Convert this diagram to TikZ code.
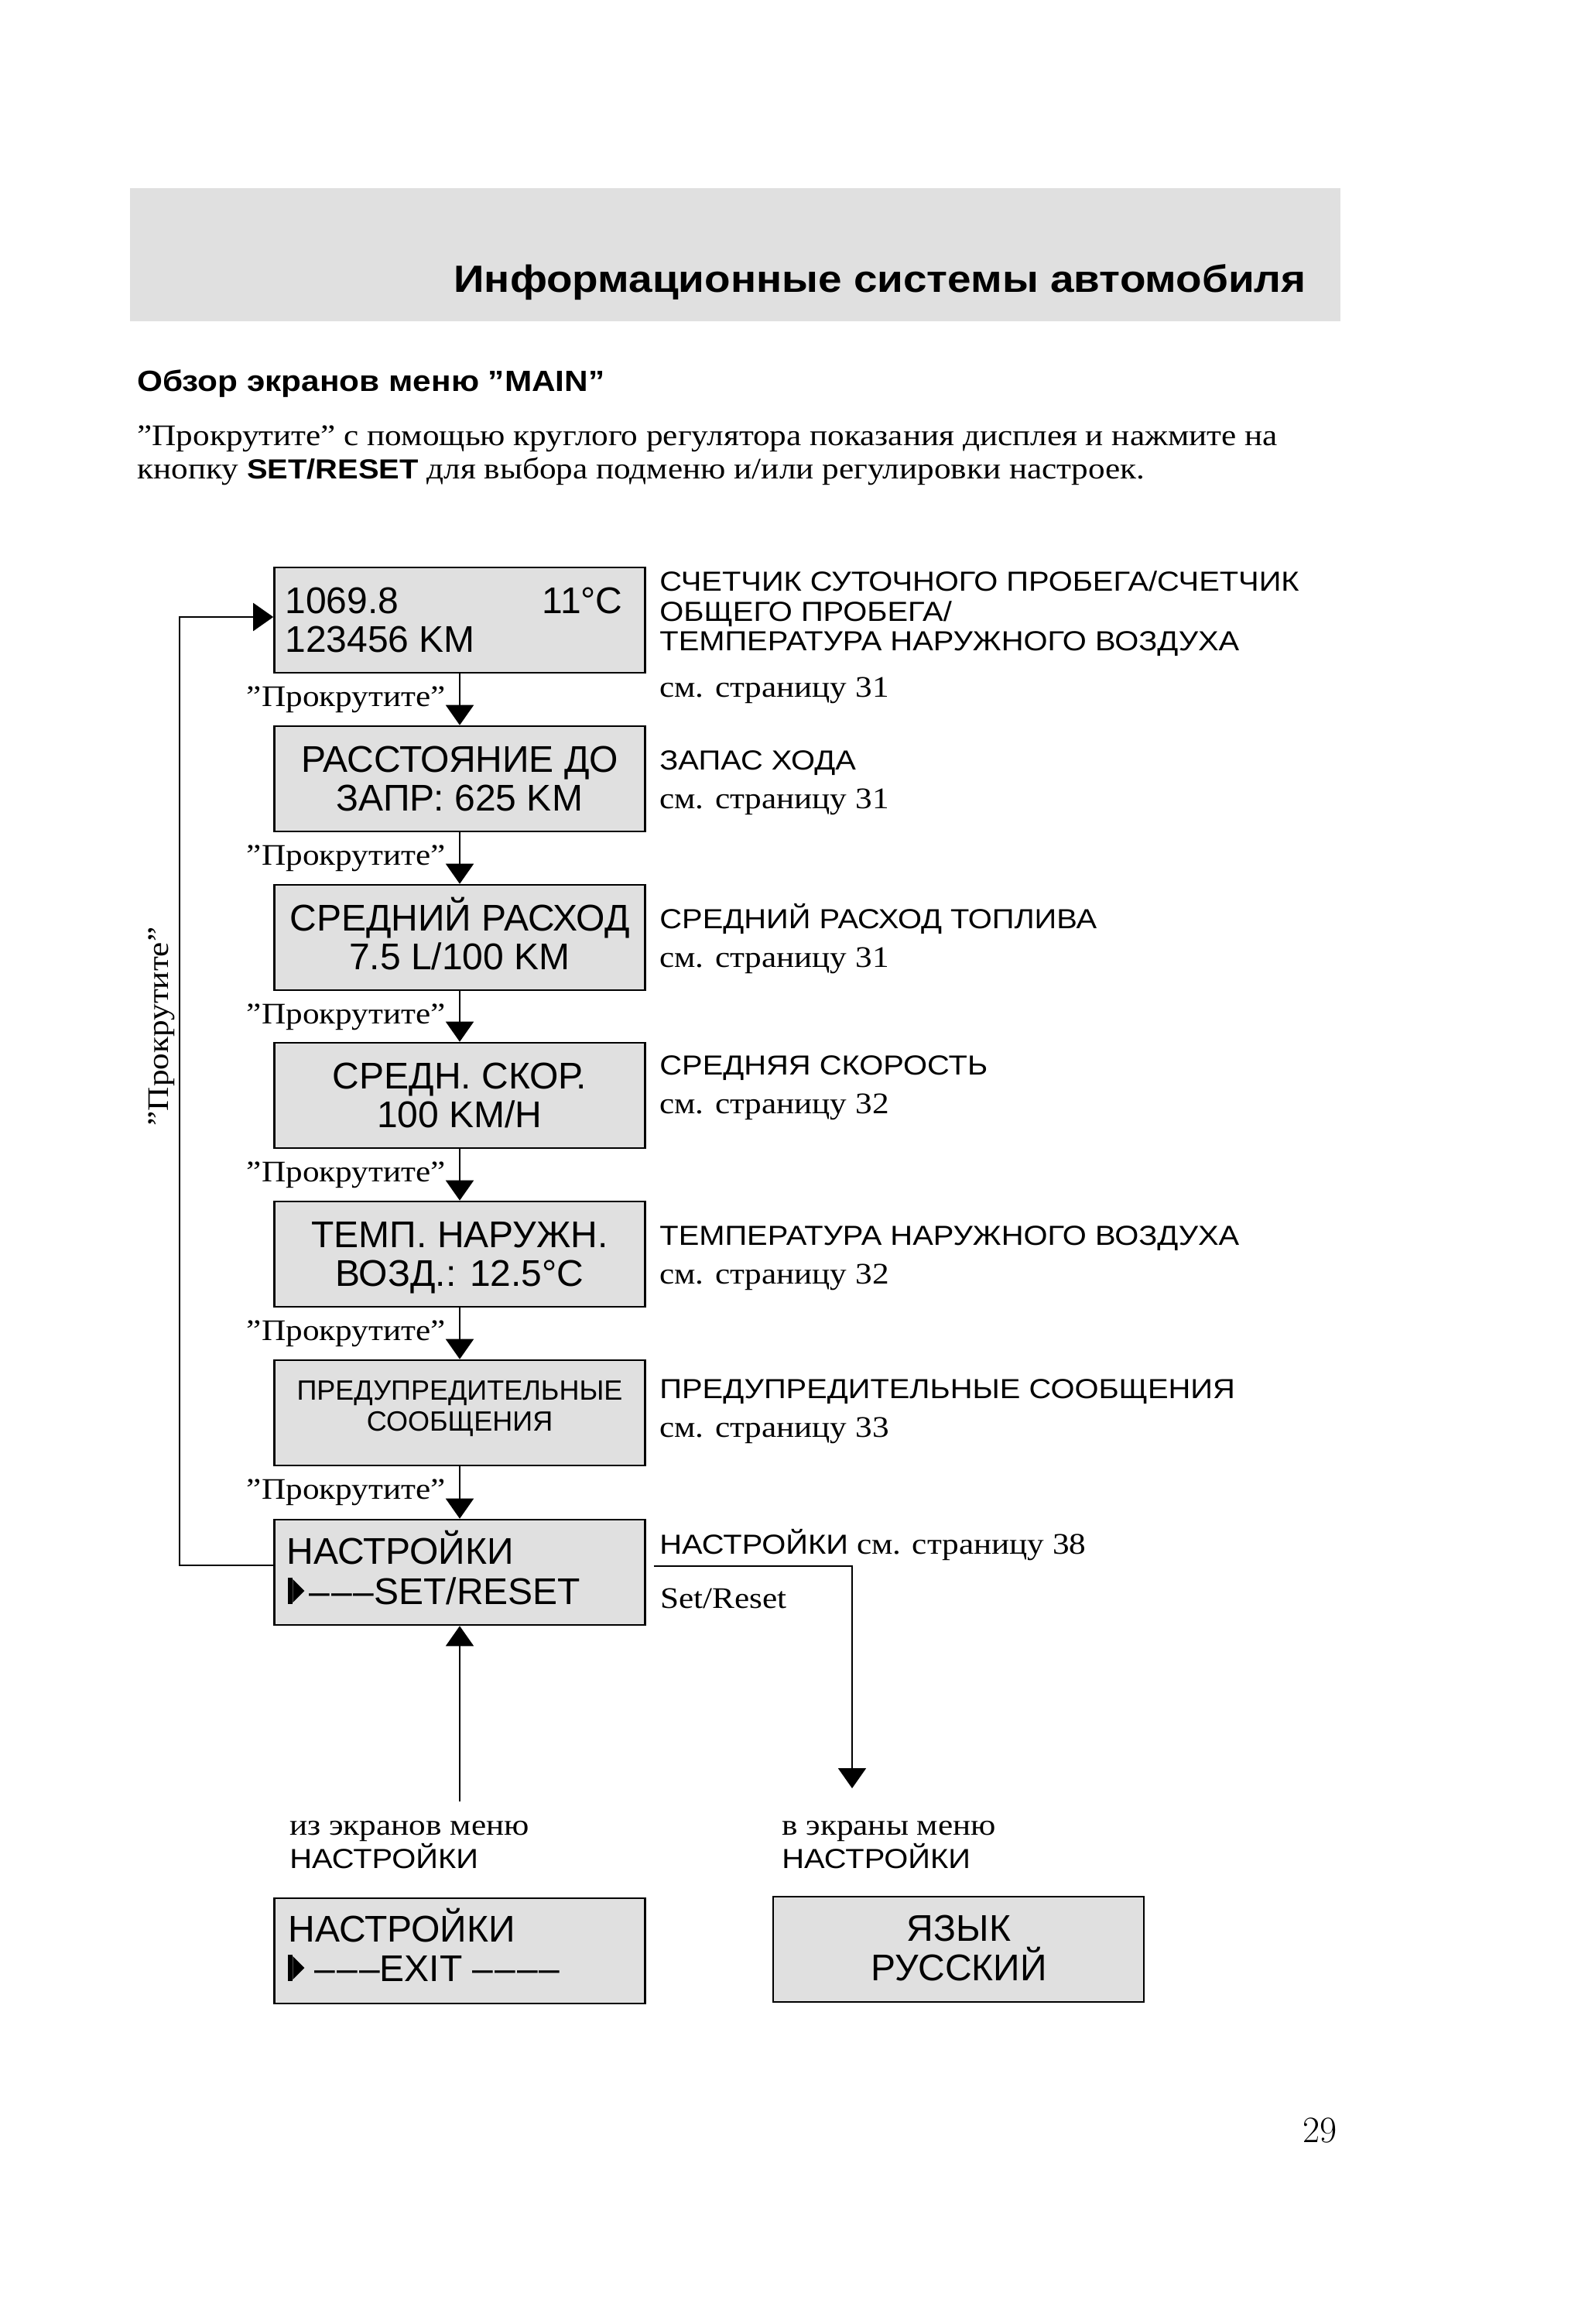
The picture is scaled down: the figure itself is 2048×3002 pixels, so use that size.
\documentclass[tikz,border=0pt]{standalone}
\usepackage{fontspec}
\usetikzlibrary{arrows.meta}
\newfontfamily\sansS[FakeStretch=1.12]{Liberation Sans}
\newfontfamily\serS[FakeStretch=1.12]{Liberation Serif}
\newfontfamily\boxF{Liberation Sans}
\definecolor{boxgray}{HTML}{E0E0E0}
\newcommand\serf{\serS\fontsize{19.3}{22}\selectfont}
\newcommand\labf{\sansS\fontsize{17.8}{20}\selectfont}
\newcommand\boxf{\boxF\fontsize{24}{26}\selectfont}
\newcommand\ptr{\tikz[baseline=0pt]{\fill (0pt,0pt) rectangle (3pt,17pt); \fill (3pt,1pt) -- (10.5pt,8.5pt) -- (3pt,16pt) -- cycle;}}
\newcommand\dsh{–\kern1pt}
\begin{document}
\begin{tikzpicture}[x=0.5pt,y=-0.5pt,
  screen/.style={draw, line width=1.3pt, fill=boxgray, minimum width=239.5pt, minimum height=68pt, inner sep=0pt},
  btxt/.style={font=\boxf, inner sep=0pt},
  bsmall/.style={font=\boxF\fontsize{18}{20}\selectfont, inner sep=0pt},
  lab/.style={font=\labf, anchor=base west, inner sep=0pt},
  ser/.style={font=\serf, inner sep=0pt},
  scroll/.style={font=\serf, anchor=base east, inner sep=0pt},
  arr/.style={line width=1pt, -{Triangle[width=18pt,length=13pt]}}]
\useasboundingbox (0,0) rectangle (2048,3002);
% header
\fill[boxgray] (168,243) rectangle (1732,415);
\node[anchor=base east, inner sep=0pt, font=\sansS\bfseries\fontsize{24.5}{28}\selectfont] (title) at (1688,377) {Информационные системы автомобиля};
\node[anchor=base west, inner sep=0pt, font=\sansS\bfseries\fontsize{18.9}{22}\selectfont] (sub) at (177,505) {Обзор экранов меню ”MAIN”};
\node[ser, anchor=base west] (p1) at (177,575) {”Прокрутите” с помощью круглого регулятора показания дисплея и нажмите на};
\node[ser, anchor=base west] (p2) at (177,618) {кнопку {\sansS\bfseries\fontsize{17.8}{20}\selectfont SET/RESET} для выбора подменю и/или регулировки настроек.};
% screens
\node[screen] (b1) at (594,801) {};
\node[screen] (b2) at (594,1006) {};
\node[screen] (b3) at (594,1211) {};
\node[screen] (b4) at (594,1415) {};
\node[screen] (b5) at (594,1620) {};
\node[screen] (b6) at (594,1825) {};
\node[screen] (b7) at (594,2031) {};
\node[screen] (bx) at (594,2520) {};
\node[screen] (by) at (1238.5,2518) {};
% screen texts
\node[btxt, anchor=base west] (t1a) at (368,792) {1069.8};
\node[btxt, anchor=base east] (t1b) at (805,792) {11°C};
\node[btxt, anchor=base west] (t1c) at (368,842) {123456 KM};
\node[btxt, anchor=base] (t2a) at (594,997) {РАССТОЯНИЕ ДО};
\node[btxt, anchor=base] (t2b) at (594,1047) {ЗАПР: 625 KM};
\node[btxt, anchor=base] (t3a) at (594,1202) {СРЕДНИЙ РАСХОД};
\node[btxt, anchor=base] (t3b) at (594,1252) {7.5 L/100 KM};
\node[btxt, anchor=base] (t4a) at (594,1406) {СРЕДН. СКОР.};
\node[btxt, anchor=base] (t4b) at (594,1456) {100 KM/H};
\node[btxt, anchor=base] (t5a) at (594,1611) {ТЕМП. НАРУЖН.};
\node[btxt, anchor=base] (t5b) at (594,1661) {ВОЗД.: 12.5°C};
\node[bsmall, anchor=base] (t6a) at (594,1808) {ПРЕДУПРЕДИТЕЛЬНЫЕ};
\node[bsmall, anchor=base] (t6b) at (594,1848) {СООБЩЕНИЯ};
\node[btxt, anchor=base west] (t7a) at (370,2020) {НАСТРОЙКИ};
\node[btxt, anchor=base west] (t7b) at (372,2072) {\ptr\kern3pt\dsh\dsh–SET/RESET};
\node[btxt, anchor=base west] (txa) at (372,2508) {НАСТРОЙКИ};
\node[btxt, anchor=base west] (txb) at (372,2559) {\ptr\ \dsh\dsh–EXIT \dsh\dsh\dsh–};
\node[btxt, anchor=base] (tya) at (1239,2507) {ЯЗЫК};
\node[btxt, anchor=base] (tyb) at (1239,2558) {РУССКИЙ};
% right labels
\node[lab] (l1a) at (852,763) {СЧЕТЧИК СУТОЧНОГО ПРОБЕГА/СЧЕТЧИК};
\node[lab] (l1b) at (852,802) {ОБЩЕГО ПРОБЕГА/};
\node[lab] (l1c) at (852,840) {ТЕМПЕРАТУРА НАРУЖНОГО ВОЗДУХА};
\node[ser, anchor=base west] (l1d) at (852,900) {см. страницу 31};
\node[lab] (l2a) at (852,994) {ЗАПАС ХОДА};
\node[ser, anchor=base west] (l2b) at (852,1044) {см. страницу 31};
\node[lab] (l3a) at (852,1199) {СРЕДНИЙ РАСХОД ТОПЛИВА};
\node[ser, anchor=base west] (l3b) at (852,1249) {см. страницу 31};
\node[lab] (l4a) at (852,1388) {СРЕДНЯЯ СКОРОСТЬ};
\node[ser, anchor=base west] (l4b) at (852,1438) {см. страницу 32};
\node[lab] (l5a) at (852,1608) {ТЕМПЕРАТУРА НАРУЖНОГО ВОЗДУХА};
\node[ser, anchor=base west] (l5b) at (852,1658) {см. страницу 32};
\node[lab] (l6a) at (852,1806) {ПРЕДУПРЕДИТЕЛЬНЫЕ СООБЩЕНИЯ};
\node[ser, anchor=base west] (l6b) at (852,1856) {см. страницу 33};
\node[lab] (l7a) at (852,2007) {НАСТРОЙКИ {\serf см. страницу 38}};
\node[ser, anchor=base west] (l7b) at (853,2077) {Set/Reset};
% scroll labels
\node[scroll] (s1) at (576,912) {”Прокрутите”};
\node[scroll] (s2) at (576,1117) {”Прокрутите”};
\node[scroll] (s3) at (576,1322) {”Прокрутите”};
\node[scroll] (s4) at (576,1526) {”Прокрутите”};
\node[scroll] (s5) at (576,1731) {”Прокрутите”};
\node[scroll] (s6) at (576,1936) {”Прокрутите”};
\node[ser, rotate=90, anchor=base] (sv) at (217,1326) {”Прокрутите”};
% bottom labels
\node[ser, anchor=base west] (fa) at (374,2370) {из экранов меню};
\node[lab] (fb) at (374,2413) {НАСТРОЙКИ};
\node[ser, anchor=base west] (ga) at (1010,2370) {в экраны меню};
\node[lab] (gb) at (1010,2413) {НАСТРОЙКИ};
% page number
\node[anchor=base east, inner sep=0pt, font=\fontsize{24}{28}\selectfont] (pg) at (1728,2767) {29};
% connectors
\draw[arr] (b1) -- (b2);
\draw[arr] (b2) -- (b3);
\draw[arr] (b3) -- (b4);
\draw[arr] (b4) -- (b5);
\draw[arr] (b5) -- (b6);
\draw[arr] (b6) -- (b7);
\draw[arr] ([yshift=4.5pt]b7.west) -- ++(-121,0) |- ([yshift=2pt]b1.west);
\coordinate (sr) at (1101,2310);
\draw[arr] ([xshift=5pt,yshift=4pt]b7.east) -| (sr);
\coordinate (fromset) at (594,2327);
\draw[arr] (fromset) -- (b7.south);
\end{tikzpicture}
\end{document}
